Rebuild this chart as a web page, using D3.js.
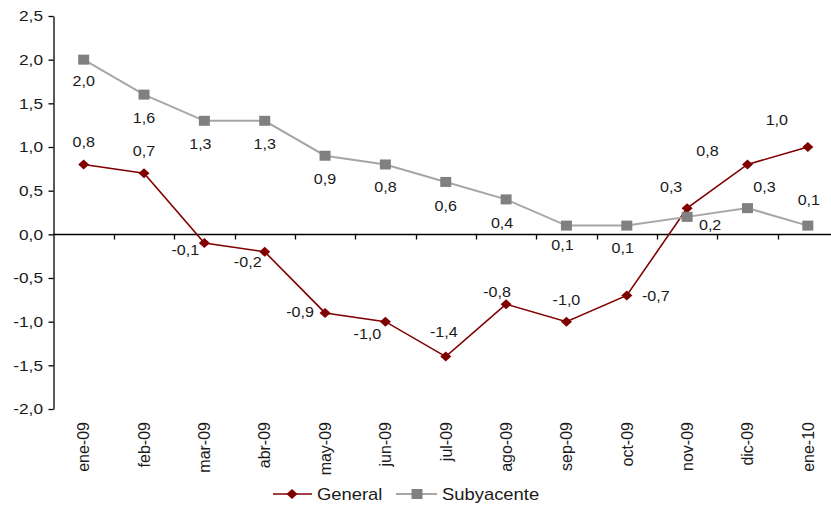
<!DOCTYPE html>
<html>
<head>
<meta charset="utf-8">
<script src="https://cdn.jsdelivr.net/npm/d3@7"></script>
<style>
  body { margin: 0; background: #fff; }
  svg { display: block; font-family: "Liberation Sans", Arial, sans-serif; }
</style>
</head>
<body>
<svg id="chart" width="831" height="509"></svg>
<script>
var months = ['ene-09', 'feb-09', 'mar-09', 'abr-09', 'may-09', 'jun-09', 'jul-09',
  'ago-09', 'sep-09', 'oct-09', 'nov-09', 'dic-09', 'ene-10'];
var general = [0.8, 0.7, -0.1, -0.2, -0.9, -1.0, -1.4, -0.8, -1.0, -0.7, 0.3, 0.8, 1.0];
var subyacente = [2.0, 1.6, 1.3, 1.3, 0.9, 0.8, 0.6, 0.4, 0.1, 0.1, 0.2, 0.3, 0.1];
var yTicks = [-2.0, -1.5, -1.0, -0.5, 0.0, 0.5, 1.0, 1.5, 2.0, 2.5];

// label placement (dx, dy from the marker), as the original spreadsheet left them
var generalLabelPos = [[0, -22], [0, -22], [-19, 7], [-17, 10], [-25, -1], [-18, 12], [-2, -25],
  [-9, -12], [0, -22], [29, 1], [-16, -21], [-40, -13], [-31, -27]];
var subyacenteLabelPos = [[0, 21], [0, 23], [-4, 23], [0, 23], [0, 23], [0, 23], [0, 24],
  [-4, 24], [-4, 19], [-4, 22], [23, 8], [17, -21], [1, -26]];

var RED = '#800000';
var GREY_LINE = '#a6a6a6';
var GREY_MARK = '#808080';
var TEXT = '#1a1a1a';
var STRETCH = 1.15; // the source image is a bit wider than tall

var svg = d3.select('#chart');
var fmt = function(v) { return d3.format('.1f')(v).replace('.', ',').replace('−', '-'); };

var x = d3.scaleBand().domain(months).range([53.5, 838]).padding(0);
var cx = function(d) { return x(d) + x.bandwidth() / 2; };
var y = d3.scaleLinear().domain([-2.0, 2.5]).range([409, 16]);

/**
 * Writes a horizontally stretched text centred on (px, py)
 */
function label(g, px, py, txt, size, anchor) {
  g.append('text').
      attr('transform', 'translate(' + px + ',' + py + ') scale(' + STRETCH + ',1)').
      attr('text-anchor', anchor || 'middle').
      attr('dy', '0.35em').
      style('font-size', size + 'px').
      attr('fill', TEXT).
      text(txt);
}

// y axis
var yAxis = svg.append('g').attr('transform', 'translate(53.5,0)').
    call(d3.axisLeft(y).tickValues(yTicks).tickSize(5).tickSizeOuter(0).tickFormat(''));
yAxis.selectAll('path, line').attr('stroke', '#000').attr('stroke-width', 1.3);
yTicks.forEach(function(t) {
  label(svg, 43, y(t), fmt(t), 15, 'end');
});

// x axis along zero
var zero = Math.round(y(0)) + 0.5;
svg.append('line').attr('x1', 53.5).attr('x2', 838).attr('y1', zero).attr('y2', zero).
    attr('stroke', '#000').attr('stroke-width', 1.3);
svg.append('g').selectAll('line').data(months.slice(1)).join('line').
    attr('x1', function(d) { return Math.round(x(d)) + 0.5; }).
    attr('x2', function(d) { return Math.round(x(d)) + 0.5; }).
    attr('y1', zero).attr('y2', zero + 5).
    attr('stroke', '#000').attr('stroke-width', 1.3);

// month labels at the bottom, rotated
svg.append('g').selectAll('text').data(months).join('text').
    attr('transform', function(d) { return 'translate(' + cx(d) + ',422) rotate(-90)'; }).
    attr('text-anchor', 'end').
    attr('dy', '0.36em').
    style('font-size', '16px').
    attr('fill', TEXT).
    text(function(d) { return d; });

var line = d3.line().
    x(function(d, i) { return cx(months[i]); }).
    y(function(d) { return y(d); });

// General
svg.append('path').datum(general).attr('d', line).
    attr('fill', 'none').attr('stroke', RED).attr('stroke-width', 1.6);
svg.append('g').selectAll('path').data(general).join('path').
    attr('transform', function(d, i) { return 'translate(' + cx(months[i]) + ',' + y(d) + ')'; }).
    attr('d', 'M0,-5L5.5,0L0,5L-5.5,0Z').
    attr('fill', RED);

// Subyacente
svg.append('path').datum(subyacente).attr('d', line).
    attr('fill', 'none').attr('stroke', GREY_LINE).attr('stroke-width', 2);
svg.append('g').selectAll('rect').data(subyacente).join('rect').
    attr('x', function(d, i) { return cx(months[i]) - 5.5; }).
    attr('y', function(d) { return y(d) - 5; }).
    attr('width', 11).attr('height', 10).
    attr('fill', GREY_MARK);

// data labels
var labels = svg.append('g');
general.forEach(function(v, i) {
  label(labels, cx(months[i]) + generalLabelPos[i][0], y(v) + generalLabelPos[i][1], fmt(v), 14);
});
subyacente.forEach(function(v, i) {
  label(labels, cx(months[i]) + subyacenteLabelPos[i][0], y(v) + subyacenteLabelPos[i][1], fmt(v), 14);
});

// legend
var legend = svg.append('g');
legend.append('line').attr('x1', 273).attr('x2', 312).attr('y1', 494).attr('y2', 494).
    attr('stroke', RED).attr('stroke-width', 1.6);
legend.append('path').attr('transform', 'translate(292,494)').
    attr('d', 'M0,-5L5.5,0L0,5L-5.5,0Z').attr('fill', RED);
label(legend, 317, 494, 'General', 16, 'start');
legend.append('line').attr('x1', 396).attr('x2', 437).attr('y1', 494).attr('y2', 494).
    attr('stroke', GREY_LINE).attr('stroke-width', 2);
legend.append('rect').attr('x', 411.5).attr('y', 489).attr('width', 11).attr('height', 10).
    attr('fill', GREY_MARK);
label(legend, 442, 494, 'Subyacente', 16, 'start');
</script>
</body>
</html>
